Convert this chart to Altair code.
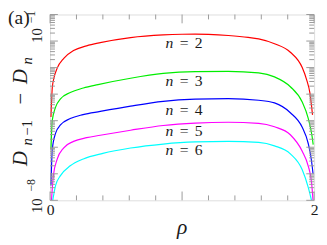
import altair as alt
import pandas as pd

# ---- data (log10 of D_{n-1} - D_n) ----
rho_n2 = [0.007, 0.017, 0.030, 0.054, 0.104, 0.178, 0.277, 0.38, 0.61, 0.857, 1.0, 1.1, 1.2, 1.35, 1.5, 1.58, 1.70, 1.82, 1.91, 1.943, 1.968, 1.988]
log_n2 = [-4.86, -3.75, -3.38, -3.02, -2.65, -2.36, -2.18, -2.06, -1.87, -1.77, -1.745, -1.74, -1.75, -1.79, -1.86, -1.92, -2.10, -2.42, -3.0, -3.45, -3.95, -4.78]

rho_n3 = [0.007, 0.017, 0.042, 0.079, 0.153, 0.252, 0.363, 0.61, 0.857, 1.10, 1.35, 1.58, 1.70, 1.82, 1.91, 1.955, 1.985, 1.993]
log_n3 = [-6.08, -4.98, -4.49, -4.18, -3.94, -3.77, -3.64, -3.40, -3.22, -3.15, -3.14, -3.20, -3.35, -3.72, -4.3, -4.9, -5.6, -5.9]

rho_n4 = [0.007, 0.017, 0.042, 0.079, 0.153, 0.25, 0.38, 0.61, 0.857, 1.10, 1.35, 1.58, 1.70, 1.82, 1.91, 1.955, 1.98, 1.992]
log_n4 = [-7.44, -6.08, -5.47, -5.16, -4.92, -4.77, -4.65, -4.45, -4.27, -4.19, -4.17, -4.23, -4.33, -4.70, -5.25, -5.85, -6.5, -7.0]

rho_n5 = [0.011, 0.025, 0.054, 0.104, 0.178, 0.277, 0.38, 0.61, 0.857, 1.10, 1.35, 1.58, 1.70, 1.82, 1.91, 1.955, 1.98, 1.992]
log_n5 = [-8.0, -7.07, -6.45, -6.02, -5.78, -5.64, -5.55, -5.36, -5.18, -5.09, -5.06, -5.10, -5.23, -5.53, -6.15, -6.7, -7.3, -8.0]

rho_n6 = [0.017, 0.042, 0.079, 0.153, 0.252, 0.40, 0.61, 0.857, 1.10, 1.35, 1.58, 1.70, 1.82, 1.91, 1.955, 1.985]
log_n6 = [-8.1, -7.44, -7.07, -6.70, -6.44, -6.23, -6.03, -5.88, -5.80, -5.78, -5.82, -5.95, -6.25, -6.85, -7.5, -8.1]

series_n = ["2", "3", "4", "5", "6"]
series_colors = ["#ff0000", "#00ee00", "#0000ff", "#ff00ff", "#00ffff"]

label_n = ["2", "3", "4", "5", "6"]
label_rho = [1.015, 1.015, 1.015, 1.015, 1.015]
label_log = [-2.27, -3.71, -4.78, -5.59, -6.29]

x_major = [0, 1, 2]
x_minor = [0.2, 0.4, 0.6, 0.8, 1.2, 1.4, 1.6, 1.8]
y_major_exp = [-8, -7, -6, -5, -4, -3, -2, -1]

# ---- tables ----
rows = []
for n, rr, ll in zip(series_n, [rho_n2, rho_n3, rho_n4, rho_n5, rho_n6],
                     [log_n2, log_n3, log_n4, log_n5, log_n6]):
    for r, l in zip(rr, ll):
        rows.append({"n": n, "rho": r, "val": 10.0 ** l})
curves = pd.DataFrame(rows)

labels = pd.DataFrame({"n": label_n, "rho": label_rho,
                       "val": [10.0 ** v for v in label_log]})

y_major = pd.DataFrame({"t": [10.0 ** e for e in y_major_exp]})
y_minor = pd.DataFrame({"t": [m * 10.0 ** e for e in y_major_exp[:-1] for m in range(2, 10)]})
xmaj = pd.DataFrame({"t": x_major})
xmin = pd.DataFrame({"t": x_minor})

W, H = 270, 190
SERIF = "Liberation Serif"
INK = "#1a1a1a"
TICK = "#9a9a9a"

xscale = alt.Scale(domain=[0, 2], nice=False, zero=False)
yscale = alt.Scale(type="log", domain=[1e-8, 1e-1], nice=False)
xaxis = alt.Axis(values=x_major, format="d", labelFont=SERIF, labelFontSize=16,
                 labelColor=INK, ticks=False, tickSize=0, domain=False,
                 grid=False, title=None, labelPadding=1, labelFlush=False)

X = alt.X("rho:Q", scale=xscale, axis=xaxis)
Y = alt.Y("val:Q", scale=yscale, axis=None)

lines = alt.Chart(curves).mark_line(clip=True, strokeWidth=1.2, interpolate="monotone").encode(
    x=X, y=Y,
    color=alt.Color("n:N", scale=alt.Scale(domain=series_n, range=series_colors), legend=None),
)

def xticks(df, length):
    b = alt.Chart(df).mark_rule(color=TICK, strokeWidth=1).encode(
        x=alt.X("t:Q", scale=xscale, axis=xaxis), y=alt.value(H), y2=alt.value(H - length))
    t = alt.Chart(df).mark_rule(color=TICK, strokeWidth=1).encode(
        x=alt.X("t:Q", scale=xscale, axis=xaxis), y=alt.value(0), y2=alt.value(length))
    return [b, t]

def yticks(df, length):
    l = alt.Chart(df).mark_rule(color=TICK, strokeWidth=1).encode(
        y=alt.Y("t:Q", scale=yscale, axis=None), x=alt.value(0), x2=alt.value(length))
    r = alt.Chart(df).mark_rule(color=TICK, strokeWidth=1).encode(
        y=alt.Y("t:Q", scale=yscale, axis=None), x=alt.value(W), x2=alt.value(W - length))
    return [l, r]

one = pd.DataFrame({"k": [0]})

def txt(s, x, y, size, italic=False, angle=0, align="left"):
    kw = dict(font=SERIF, fontSize=size, align=align, baseline="alphabetic", color=INK)
    if italic:
        kw["fontStyle"] = "italic"
    if angle:
        kw["angle"] = angle
    return alt.Chart(one).mark_text(**kw).encode(
        x=alt.value(x), y=alt.value(y), text=alt.value(s))

lab_n = alt.Chart(labels).mark_text(font=SERIF, fontSize=16, fontStyle="italic", align="left",
                                    baseline="alphabetic", dx=-19, color=INK).encode(
    x=X, y=Y, text=alt.value("n"))
lab_eq = alt.Chart(labels).mark_text(font=SERIF, fontSize=16, align="center",
                                     baseline="alphabetic", dx=0, color=INK).encode(
    x=X, y=Y, text=alt.value("="))
lab_d = alt.Chart(labels).mark_text(font=SERIF, fontSize=16, align="right",
                                    baseline="alphabetic", dx=19, color=INK).encode(
    x=X, y=Y, text="n:N")

texts = [
    # y-axis title  D_{n-1} - D_n  (rotated)
    txt("D", -24, 155, 21, True, 270),
    txt("n", -18, 134, 15, True, 270),
    txt("\u22121", -18, 124, 15, False, 270),
    txt("\u2212", -24, 92, 21, False, 270),
    txt("D", -24, 71, 21, True, 270),
    txt("n", -18, 51, 15, True, 270),
    # y tick labels 10^-1, 10^-8
    txt("10", -8, 29, 15, False, 270),
    txt("\u22121", -15, 9, 12, False, 270),
    txt("10", -8, 203, 15, False, 270),
    txt("\u22128", -15, 181, 12, False, 270),
    # x title and panel tag
    txt("\u03c1", 135, 224, 22, True, 0, "center"),
    txt("(a)", -43, 10, 20, False, 0, "left"),
]

layers = [lines] + xticks(xmin, 5) + xticks(xmaj, 9) + yticks(y_minor, 5) + yticks(y_major, 8) \
    + [lab_n, lab_eq, lab_d] + texts

chart = alt.layer(*layers).properties(
    width=W, height=H, autosize="none",
    padding={"left": 43, "top": 4, "right": 5, "bottom": 42},
).configure_view(stroke="#222", strokeWidth=1).configure(background="white")

chart.save("out.html", embed_options={"renderer": "svg", "actions": False})
